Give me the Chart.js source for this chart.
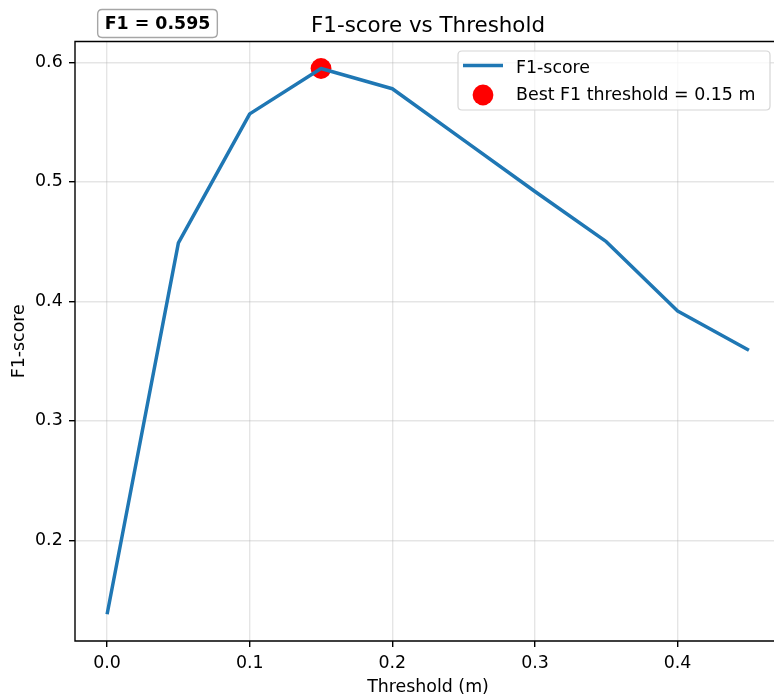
<!DOCTYPE html>
<html><head><meta charset="utf-8">
<script src="https://cdn.jsdelivr.net/npm/chart.js@4"></script>
<style>html,body{margin:0;padding:0;overflow:hidden;background:#fff;} #wrap{width:781px;height:698px;}</style>
</head><body>
<div id="wrap"><canvas id="c" width="781" height="698" style="width:781px;height:698px"></canvas></div>
<script>
// ---- data ----
const thresholds = [0.00, 0.05, 0.10, 0.15, 0.20, 0.25, 0.30, 0.35, 0.40, 0.45];
const f1Scores   = [0.138, 0.449, 0.557, 0.595, 0.578, 0.535, 0.492, 0.450, 0.392, 0.359];
const xTicks = [0.0, 0.1, 0.2, 0.3, 0.4];
const yTicks = [0.2, 0.3, 0.4, 0.5, 0.6];
const xRange = [-0.0225, 0.4725];
const yRange = [0.1156, 0.6176];
const titleText = 'F1-score vs Threshold';
const xLabel = 'Threshold (m)';
const yLabel = 'F1-score';
const lineLabel = 'F1-score';

let bestIdx = 0;
for (let i = 1; i < f1Scores.length; i++) if (f1Scores[i] > f1Scores[bestIdx]) bestIdx = i;
const bestThr = thresholds[bestIdx], bestF1 = f1Scores[bestIdx];
const bestLabel = 'Best F1 threshold = ' + bestThr.toFixed(2) + ' m';
const boxText = 'F1 = ' + bestF1.toFixed(3);

const FONT = '"DejaVu Sans", sans-serif';
const BLUE = '#1f77b4';
Chart.defaults.font.family = FONT;
Chart.defaults.font.size = 17.4;
Chart.defaults.color = '#000';

function rrect(ctx, x, y, w, h, r) {
  ctx.beginPath();
  ctx.moveTo(x + r, y);
  ctx.lineTo(x + w - r, y); ctx.quadraticCurveTo(x + w, y, x + w, y + r);
  ctx.lineTo(x + w, y + h - r); ctx.quadraticCurveTo(x + w, y + h, x + w - r, y + h);
  ctx.lineTo(x + r, y + h); ctx.quadraticCurveTo(x, y + h, x, y + h - r);
  ctx.lineTo(x, y + r); ctx.quadraticCurveTo(x, y, x + r, y);
  ctx.closePath();
}

const decor = {
  id: 'decor',
  afterDatasetsDraw(chart) {
    const {ctx, chartArea: a} = chart;
    ctx.save();
    // spines
    ctx.strokeStyle = '#000'; ctx.lineWidth = 1.4;
    ctx.beginPath(); ctx.rect(a.left, a.top, a.right - a.left, a.bottom - a.top); ctx.stroke();
    // title
    ctx.fillStyle = '#000'; ctx.textAlign = 'center'; ctx.textBaseline = 'alphabetic';
    ctx.font = '21.4px ' + FONT;
    ctx.fillText(titleText, (a.left + a.right) / 2, 31.7);
    // F1 box
    ctx.font = 'bold 17.4px ' + FONT;
    const tw = ctx.measureText(boxText).width;
    const cx = 157.5;
    rrect(ctx, cx - tw / 2 - 7, 9.5, tw + 14, 28, 4.5);
    ctx.fillStyle = '#fff'; ctx.fill();
    ctx.strokeStyle = '#a6a6a6'; ctx.lineWidth = 1.4; ctx.stroke();
    ctx.fillStyle = '#000';
    ctx.fillText(boxText, cx, 29.3);
    // legend
    const ds = chart.data.datasets;
    rrect(ctx, 458, 51, 312, 59, 4);
    ctx.fillStyle = 'rgba(255,255,255,0.8)'; ctx.fill();
    ctx.strokeStyle = '#d6d6d6'; ctx.lineWidth = 1.2; ctx.stroke();
    ctx.strokeStyle = ds[0].borderColor; ctx.lineWidth = 3.5; ctx.lineCap = 'butt';
    ctx.beginPath(); ctx.moveTo(463, 65.5); ctx.lineTo(503, 65.5); ctx.stroke();
    ctx.fillStyle = ds[1].backgroundColor;
    ctx.beginPath(); ctx.arc(483, 95, ds[1].pointRadius, 0, Math.PI * 2); ctx.fill();
    ctx.fillStyle = '#000'; ctx.textAlign = 'left';
    ctx.font = '17.4px ' + FONT;
    ctx.fillText(ds[0].label, 516, 72.7);
    ctx.fillText(ds[1].label, 516, 100);
    ctx.restore();
  }
};

new Chart(document.getElementById('c'), {
  type: 'line',
  data: {
    datasets: [
      {
        label: lineLabel,
        data: thresholds.map((t, i) => ({x: t, y: f1Scores[i]})),
        borderColor: BLUE, backgroundColor: BLUE,
        borderWidth: 3.5, pointRadius: 0, tension: 0,
        borderJoinStyle: 'round', fill: false
      },
      {
        type: 'scatter',
        label: bestLabel,
        data: [{x: bestThr, y: bestF1}],
        backgroundColor: '#ff0000', borderColor: '#ff0000',
        pointRadius: 10.4, pointBorderWidth: 0, showLine: false
      }
    ]
  },
  options: {
    responsive: false,
    animation: false,
    devicePixelRatio: 1,
    layout: {autoPadding: false, padding: {top: 41.5, left: 0, right: 0, bottom: 0}},
    plugins: {legend: {display: false}, title: {display: false}, tooltip: {enabled: false}},
    scales: {
      x: {
        type: 'linear', min: xRange[0], max: xRange[1],
        afterBuildTicks: s => { s.ticks = xTicks.map(v => ({value: v})); },
        afterFit: s => { s.height = 57; },
        ticks: {callback: v => v.toFixed(1), padding: 6, color: '#000', font: {size: 17.4}, maxRotation: 0, autoSkip: false},
        grid: {color: 'rgba(176,176,176,0.33)', lineWidth: 1.4, drawTicks: true, tickLength: 6, tickColor: '#000', tickWidth: 1.4},
        border: {display: false},
        title: {display: true, text: xLabel, color: '#000', font: {size: 17.4, lineHeight: 1.2}, padding: {top: 0, bottom: 0}}
      },
      y: {
        type: 'linear', min: yRange[0], max: yRange[1],
        afterBuildTicks: s => { s.ticks = yTicks.map(v => ({value: v})); },
        afterFit: s => { s.width = 75; },
        ticks: {callback: v => v.toFixed(1), padding: 6.3, color: '#000', font: {size: 17.4}, autoSkip: false},
        grid: {color: 'rgba(176,176,176,0.33)', lineWidth: 1.4, drawTicks: true, tickLength: 6, tickColor: '#000', tickWidth: 1.4},
        border: {display: false},
        title: {display: true, text: yLabel, color: '#000', font: {size: 17.4, lineHeight: 1.2}, padding: {top: 9, bottom: 0}}
      }
    }
  },
  plugins: [decor]
});
</script>
</body></html>
